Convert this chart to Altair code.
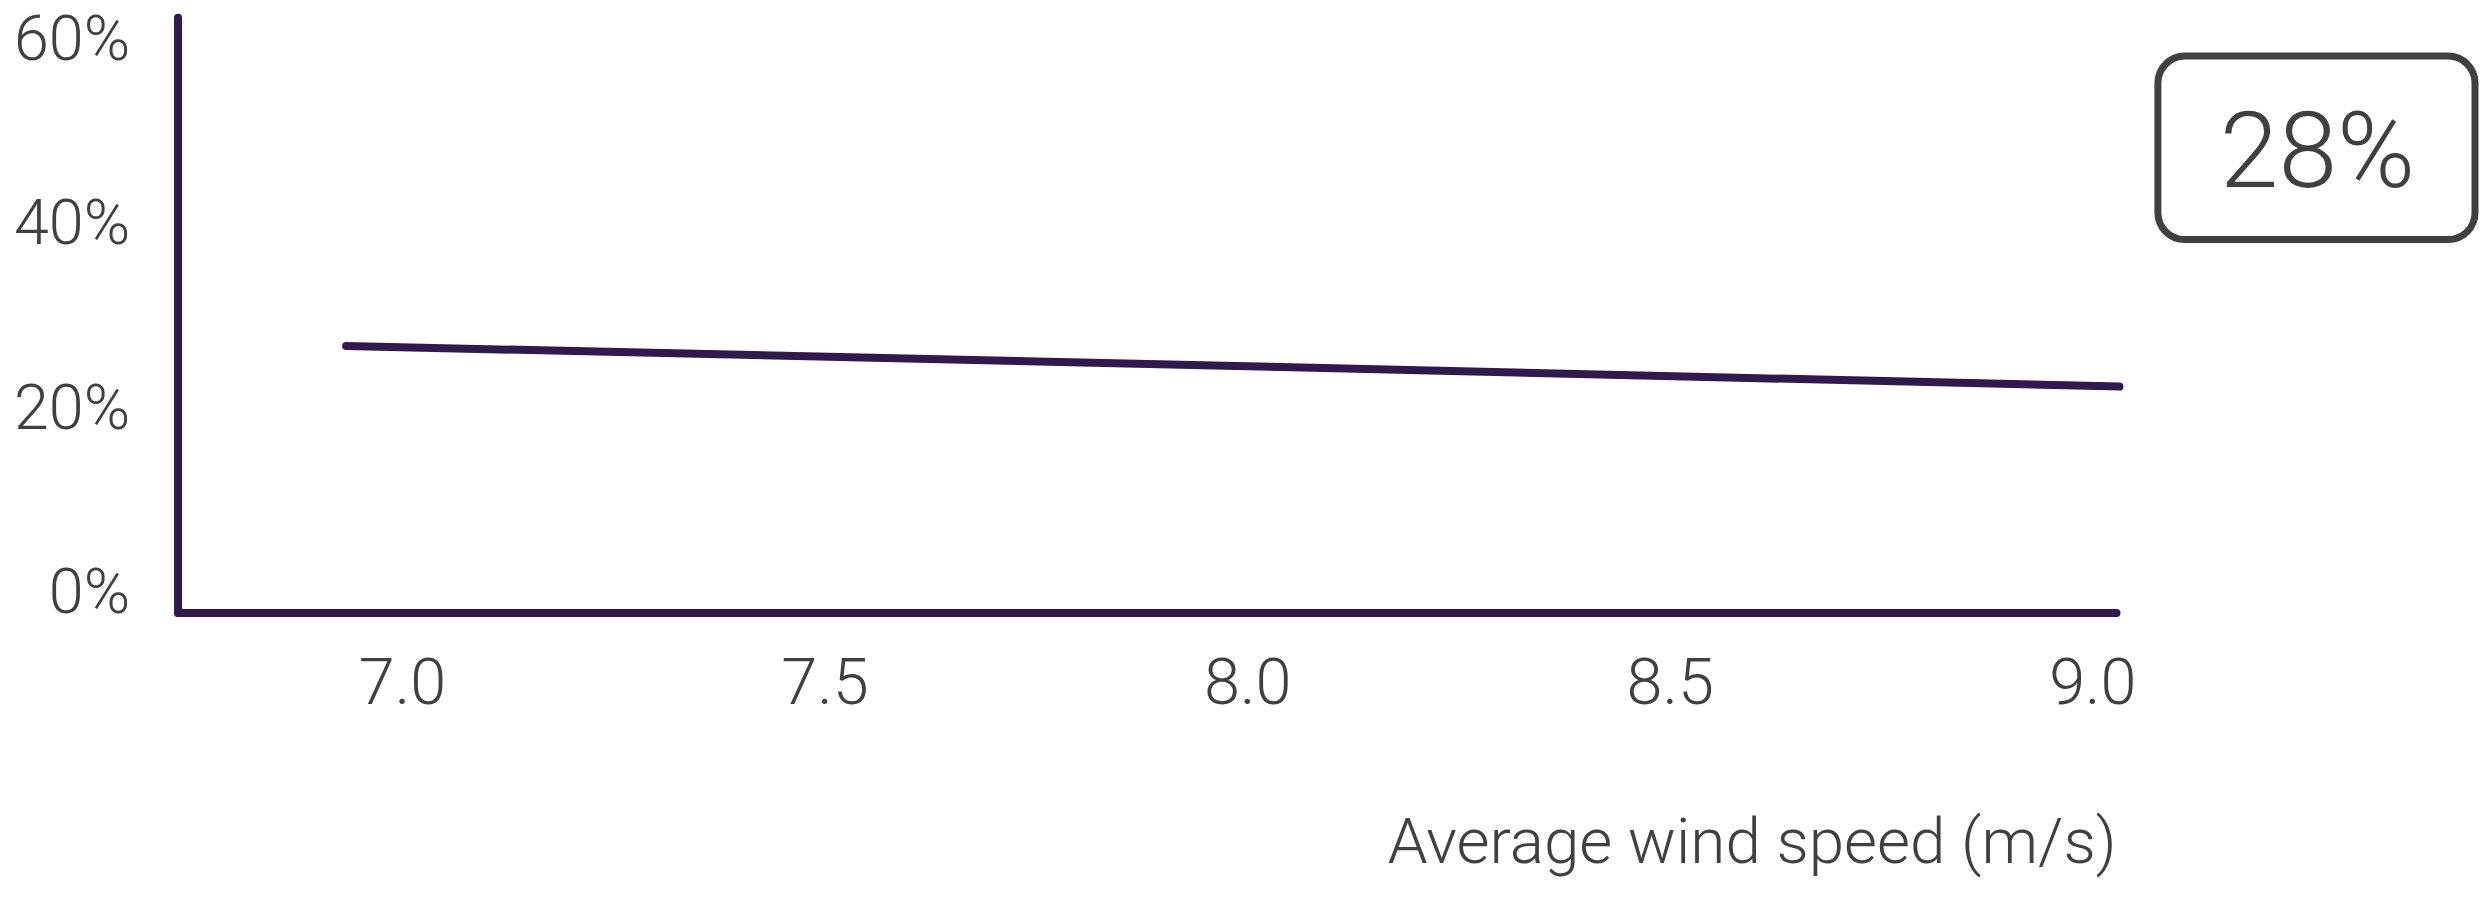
import altair as alt
import pandas as pd

# ---- data ----
wind_speed = [6.934, 8.0, 9.032]          # m/s
share = [0.289, 0.267, 0.245]             # fraction
x_ticks = [7.0, 7.5, 8.0, 8.5, 9.0]
y_ticks = [0.0, 0.2, 0.4, 0.6]
x_domain = [6.7345, 9.028]
y_domain = [0.0, 0.6454]
headline_value = [0.28]
x_title = "Average wind speed (m/s)"

# ---- styling ----
LINE = "#30194f"
TEXT = "#404040"
FONT = "Roboto"
W, H = 1944, 597

df = pd.DataFrame({"wind": wind_speed, "share": share})
head = pd.DataFrame({"v": headline_value})

x_axis = alt.Axis(
    values=x_ticks, format=".1f", ticks=False, tickSize=0, grid=False,
    domain=True, domainColor=LINE, domainWidth=8, domainCap="round",
    labelFont=FONT, labelFontWeight=300, labelFontSize=65, labelColor=TEXT,
    labelBaseline="alphabetic", labelPadding=91, labelFlush=False, labelOverlap=False,
    title=x_title, titleFont=FONT, titleFontWeight=300, titleFontSize=64,
    titleColor=TEXT, titleX=W, titleY=251, titleAlign="right",
    titleAnchor="end", titleBaseline="alphabetic",
)
y_axis = alt.Axis(
    values=y_ticks, format=".0%", ticks=False, tickSize=0, grid=False,
    domain=True, domainColor=LINE, domainWidth=8, domainCap="round",
    labelFont=FONT, labelFontWeight=300, labelFontSize=63, labelColor=TEXT,
    labelBaseline="alphabetic", labelAlign="right", labelPadding=48,
    labelFlush=False, labelOverlap=False, title=None,
)

line = alt.Chart(df).mark_line(
    color=LINE, strokeWidth=8, strokeCap="round", clip=False
).encode(
    x=alt.X("wind:Q", scale=alt.Scale(domain=x_domain, nice=False, zero=False), axis=x_axis),
    y=alt.Y("share:Q", scale=alt.Scale(domain=y_domain, nice=False, zero=True), axis=y_axis),
)

box = alt.Chart(head).mark_rect(
    fill="white", stroke=TEXT, strokeWidth=7, cornerRadius=27
).encode(
    x=alt.value(1986), x2=alt.value(2304),
    y=alt.value(39), y2=alt.value(223),
)

label = alt.Chart(head).mark_text(
    font=FONT, fontWeight=300, fontSize=106, color=TEXT,
    align="center", baseline="alphabetic",
).encode(
    x=alt.value(2146), y=alt.value(170),
    text=alt.Text("v:Q", format=".0%"),
)

chart = alt.layer(line, box, label).properties(
    width=W, height=H, background="white",
    autosize=alt.AutoSizeParams(type="none"),
    padding={"left": 170, "top": 8, "right": 364, "bottom": 269},
).configure_view(strokeWidth=0, stroke="transparent")

chart.save("out.html", embed_options={"renderer": "svg", "actions": False})
